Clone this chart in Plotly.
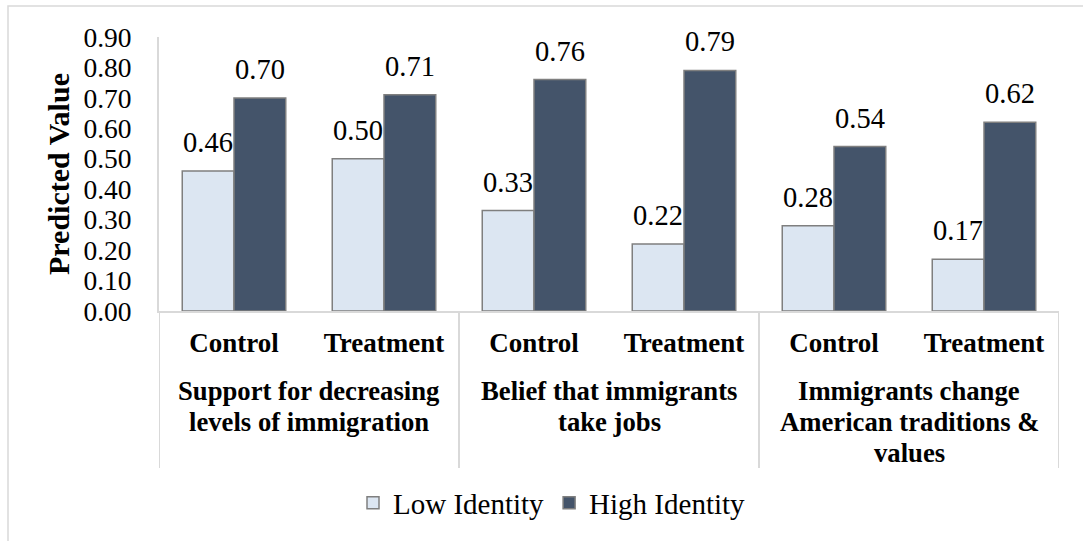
import plotly.graph_objects as go

# Survey outcomes, two experimental arms each
groups = [
    ["Support for decreasing", "levels of immigration"],
    ["Belief that immigrants", "take jobs"],
    ["Immigrants change", "American traditions &", "values"],
]
conditions = ["Control", "Treatment", "Control", "Treatment", "Control", "Treatment"]
low_identity = [0.46, 0.50, 0.33, 0.22, 0.28, 0.17]
high_identity = [0.70, 0.71, 0.76, 0.79, 0.54, 0.62]
y_ticks = [0.0, 0.1, 0.2, 0.3, 0.4, 0.5, 0.6, 0.7, 0.8, 0.9]

FONT = "Liberation Serif"
LOW_COLOR = "#dce6f2"
HIGH_COLOR = "#44546a"
EDGE = "#7f7f7f"
GRID = "#d9d9d9"
BAR_W = 0.345

# plot area in pixels: left 159, right 1059, top 37, bottom 311
PX_L, PX_W, PX_B, PX_H = 159, 900, 311, 274


def px_x(px):
    return (px - PX_L) / PX_W


def px_y(px):
    return (PX_B - px) / PX_H


x_pos = list(range(len(conditions)))

fig = go.Figure()
fig.add_trace(go.Bar(
    x=x_pos, y=low_identity, name="Low Identity",
    width=BAR_W, offset=-BAR_W,
    marker=dict(color=LOW_COLOR, line=dict(color=EDGE, width=1.5)),
))
fig.add_trace(go.Bar(
    x=x_pos, y=high_identity, name="High Identity",
    width=BAR_W, offset=0,
    marker=dict(color=HIGH_COLOR, line=dict(color=EDGE, width=1.5)),
))

annotations = []
# value labels above each bar
for i, (lo, hi) in enumerate(zip(low_identity, high_identity)):
    for xv, val in ((i - BAR_W / 2, lo), (i + BAR_W / 2, hi)):
        annotations.append(dict(
            x=xv, y=val, xref="x", yref="y", text=f"{val:.2f}",
            showarrow=False, yanchor="bottom", yshift=11,
            font=dict(family=FONT, size=28.5, color="#000000"),
        ))

# outer category labels, one annotation per line
line_centers = [391, 422, 453]
for g, lines in enumerate(groups):
    for k, line in enumerate(lines):
        annotations.append(dict(
            x=2 * g + 0.5, y=px_y(line_centers[k]), xref="x", yref="paper",
            text=f"<b>{line}</b>", showarrow=False, yanchor="middle",
            font=dict(family=FONT, size=26.7, color="#000000"),
        ))

# y-axis title
annotations.append(dict(
    x=px_x(58), y=0.5, xref="paper", yref="paper",
    text="<b>Predicted Value</b>", textangle=-90, showarrow=False,
    xanchor="center", yanchor="middle",
    font=dict(family=FONT, size=30, color="#000000"),
))

shapes = []
# group dividers below the category axis
for xb in (-0.5, 1.5, 3.5, 5.5):
    shapes.append(dict(
        type="line", xref="x", yref="paper", x0=xb, x1=xb,
        y0=0, y1=px_y(468), line=dict(color=GRID, width=2),
    ))
# chart area frame
shapes.append(dict(
    type="rect", xref="paper", yref="paper",
    x0=px_x(8), x1=px_x(1095), y0=px_y(560), y1=px_y(6),
    line=dict(color=GRID, width=1.5), fillcolor="rgba(0,0,0,0)", layer="below",
))

fig.update_layout(
    width=1083, height=541,
    margin=dict(l=PX_L, r=1083 - PX_L - PX_W, t=PX_B - PX_H, b=541 - PX_B),
    paper_bgcolor="#ffffff", plot_bgcolor="#ffffff",
    barmode="overlay",
    font=dict(family=FONT, color="#000000"),
    showlegend=True,
    legend=dict(
        orientation="h", x=px_x(552), xanchor="center", y=px_y(503),
        yanchor="middle", font=dict(family=FONT, size=29, color="#000000"),
        bgcolor="rgba(0,0,0,0)", itemwidth=30,
    ),
    annotations=annotations,
    shapes=shapes,
)
fig.update_xaxes(
    range=[-0.5, 5.5], tickmode="array", tickvals=x_pos,
    ticktext=[f"<b>{c}</b>" for c in conditions],
    tickfont=dict(family=FONT, size=27, color="#000000"),
    showline=True, linecolor=GRID, linewidth=2, showgrid=False,
    ticks="", ticklabelstandoff=7, zeroline=False,
)
fig.update_yaxes(
    range=[0, 0.9], tickmode="array", tickvals=y_ticks,
    ticktext=[f"{v:.2f}" for v in y_ticks],
    tickfont=dict(family=FONT, size=27.5, color="#000000"),
    showline=True, linecolor=GRID, linewidth=2, showgrid=False,
    ticks="", ticklabelstandoff=20, zeroline=False,
)

fig.write_html("out.html")
